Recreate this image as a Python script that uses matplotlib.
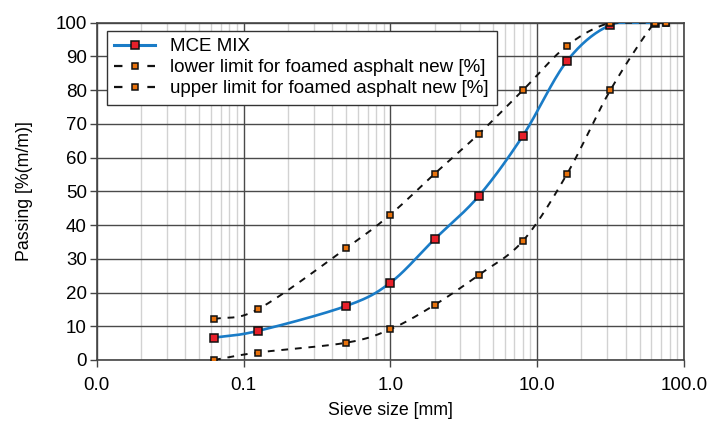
import numpy as np
import matplotlib
matplotlib.use("Agg")
import matplotlib.pyplot as plt
from matplotlib.ticker import FixedLocator, FuncFormatter

plt.rcParams["font.family"] = ["Liberation Sans", "DejaVu Sans"]

# sieve sizes [mm] and passing [%]
sieve_mix = [0.063, 0.125, 0.5, 1.0, 2.0, 4.0, 8.0, 16.0, 31.5, 63.0]
mce_mix = [6.6, 8.6, 16.0, 22.9, 35.8, 48.6, 66.5, 88.7, 99.3, 100.0]

sieve_lim = [0.063, 0.125, 0.5, 1.0, 2.0, 4.0, 8.0, 16.0, 31.5, 63.0, 75.0]
lower_limit = [12.1, 15.0, 33.1, 43.1, 55.2, 67.0, 80.0, 93.2, 100.0, 100.0, 100.0]
upper_limit = [0.0, 2.2, 5.1, 9.1, 16.3, 25.2, 35.3, 55.2, 80.0, 100.0, 100.0]

x_ticks = [0.01, 0.1, 1, 10, 100]
y_ticks = list(range(0, 101, 10))


def smooth(xs, ys, n=30):
    """Catmull-Rom curve through the points, in log-x space (like a smoothed Excel line)."""
    lx = np.log10(xs); y = np.asarray(ys, float)
    px = np.concatenate([[2 * lx[0] - lx[1]], lx, [2 * lx[-1] - lx[-2]]])
    py = np.concatenate([[2 * y[0] - y[1]], y, [2 * y[-1] - y[-2]]])
    ox, oy = [], []
    t = np.linspace(0, 1, n)
    for i in range(1, len(px) - 2):
        for arr, out in ((px, ox), (py, oy)):
            p0, p1, p2, p3 = arr[i - 1], arr[i], arr[i + 1], arr[i + 2]
            out.extend(0.5 * (2 * p1 + (-p0 + p2) * t + (2 * p0 - 5 * p1 + 4 * p2 - p3) * t ** 2
                              + (-p0 + 3 * p1 - 3 * p2 + p3) * t ** 3))
    return 10 ** np.array(ox), np.clip(np.array(oy), None, 100.0)


fig = plt.figure(figsize=(7.11, 4.21), dpi=100)
ax = fig.add_axes([0.136, 0.145, 0.826, 0.801])
ax.set_xscale("log")
ax.set_xlim(0.01, 100); ax.set_ylim(0, 100)

minor = [m * 10.0 ** e for e in range(-2, 2) for m in range(2, 10)]
for v in minor:
    ax.axvline(v, color="#d2d2d2", lw=1.0, zorder=0)
for v in x_ticks:
    ax.axvline(v, color="#4a4a4a", lw=1.0, zorder=0.5)
for v in y_ticks:
    ax.axhline(v, color="#4a4a4a", lw=1.0, zorder=0.5)

BLUE, ORANGE, RED = "#1a7cc7", "#e8720c", "#e8202a"
sx, sy = smooth(sieve_mix, mce_mix)
ax.plot(sx, sy, color=BLUE, lw=1.9, zorder=3)
ax.plot(sieve_mix, mce_mix, ls="none", marker="s", ms=6.2, mfc=RED, mec="#111111", mew=1.1, zorder=4)
for ys in (lower_limit, upper_limit):
    sx, sy = smooth(sieve_lim, ys)
    ax.plot(sx, sy, color="#111111", lw=1.4, ls=(0, (3.5, 3.5)), zorder=3)
    ax.plot(sieve_lim, ys, ls="none", marker="s", ms=5.0, mfc=ORANGE, mec="#111111", mew=1.1, zorder=5)

# legend proxies: dashed handles show "- [marker] -"
lim_style = dict(color="#111111", lw=1.6, ls=(0, (3.8, 11.2)), marker="s", ms=5.0,
                 mfc=ORANGE, mec="#111111", mew=1.1)
h1, = ax.plot([], [], color=BLUE, lw=2.2, marker="s", ms=6.2, mfc=RED, mec="#111111", mew=1.1)
h2, = ax.plot([], [], **lim_style)
h3, = ax.plot([], [], **lim_style)
leg = ax.legend([h1, h2, h3], ["MCE MIX", "lower limit for foamed asphalt new [%]",
                               "upper limit for foamed asphalt new [%]"],
                loc="upper left", bbox_to_anchor=(0.017, 0.976), fontsize=13.5, fancybox=False,
                framealpha=1, edgecolor="#333333", handlelength=2.2, labelspacing=0.2,
                borderpad=0.4, handletextpad=0.8, borderaxespad=0)
leg.get_frame().set_linewidth(1.0)

ax.xaxis.set_major_locator(FixedLocator(x_ticks))
ax.xaxis.set_minor_locator(FixedLocator([]))
ax.xaxis.set_major_formatter(FuncFormatter(lambda v, p: f"{v:.1f}"))
ax.set_yticks(y_ticks)
ax.tick_params(axis="both", labelsize=13.5, length=5, width=1.0, color="#444444", pad=2)
ax.tick_params(axis="x", pad=7)
for s in ax.spines.values():
    s.set_color("#444444"); s.set_linewidth(1.2)

ax.set_xlabel("Sieve size [mm]", fontsize=12.8, labelpad=6)
ax.set_ylabel("Passing [%(m/m)]", fontsize=12.8, labelpad=16)

fig.savefig("out.png", dpi=100)
